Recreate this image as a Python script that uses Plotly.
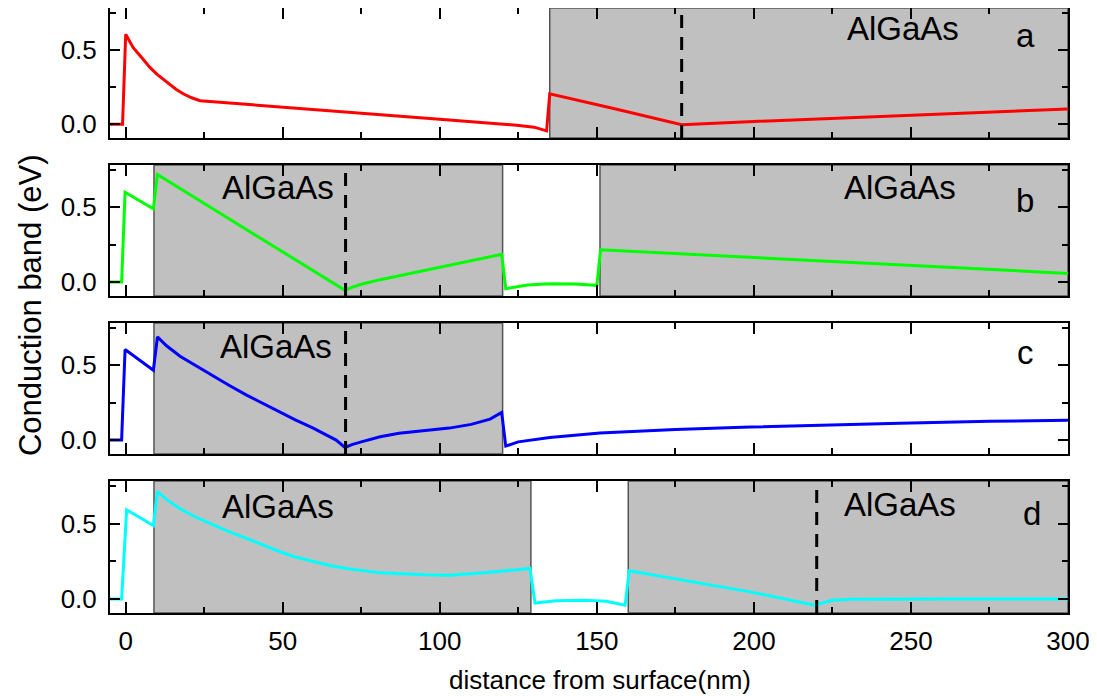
import plotly.graph_objects as go

# ---------------- data ----------------
panel_names = ["a", "b", "c", "d"]

xa = [-5, -1, 0, 2.4, 5, 7.7, 10, 13, 16, 18.3, 21, 23.7, 30, 55.5, 80, 103, 124.5, 130, 134, 135, 155, 177, 200, 250, 300]
ya = [0, 0, 0.605, 0.515, 0.45, 0.382, 0.335, 0.282, 0.235, 0.205, 0.178, 0.158, 0.148, 0.104, 0.065, 0.028, -0.007, -0.02, -0.045, 0.205, 0.107, -0.003, 0.018, 0.06, 0.102]

xb = [-5, -1.3, -0.2, 8.8, 10.1, 69.8, 72, 75, 81, 90, 103, 119.7, 121, 128, 135, 143, 150, 151.2, 300]
yb = [0, 0, 0.6, 0.489, 0.718, -0.055, -0.035, -0.015, 0.016, 0.056, 0.111, 0.185, -0.044, -0.02, -0.011, -0.013, -0.022, 0.216, 0.058]

xc = [-5, -1.3, -0.2, 8.8, 10.1, 13, 17.3, 22, 27.9, 33, 38.5, 44, 49.1, 54, 59.7, 64, 67, 69.8, 72, 75, 81, 87, 95, 103, 110, 116, 119.7, 121, 125, 135, 151, 175, 198.8, 225, 246.5, 275, 300]
yc = [0, 0, 0.605, 0.467, 0.689, 0.63, 0.56, 0.50, 0.43, 0.365, 0.30, 0.24, 0.185, 0.135, 0.08, 0.035, 0.0, -0.049, -0.03, -0.012, 0.022, 0.045, 0.062, 0.08, 0.105, 0.14, 0.185, -0.04, -0.012, 0.018, 0.047, 0.07, 0.087, 0.102, 0.113, 0.125, 0.133]

xd = [-5, -1.3, 0.3, 8.8, 10.1, 13, 17.3, 22, 27.9, 33, 38.5, 44, 49.1, 54, 59.7, 65, 70.4, 81, 95, 103.2, 115, 128.7, 130.3, 137, 145.7, 153, 159, 160.3, 198.8, 219.4, 224.8, 230.6, 260, 300]
yd = [0, 0, 0.591, 0.487, 0.713, 0.66, 0.598, 0.545, 0.491, 0.445, 0.402, 0.355, 0.313, 0.278, 0.247, 0.222, 0.202, 0.173, 0.16, 0.158, 0.175, 0.202, -0.027, -0.012, -0.009, -0.015, -0.042, 0.187, 0.047, -0.042, -0.009, -0.002, 0.0, 0.0]

series_x = [xa, xb, xc, xd]
series_y = [ya, yb, yc, yd]

# AlGaAs layer extents (nm) per panel
algaas_layers = [
    [(135, 300)],
    [(9, 120), (151, 300)],
    [(9, 120)],
    [(9, 129), (160, 300)],
]
# dashed marker position (nm) per panel
dashed_x = [177, 70, 70, 220]

x_ticks = [0, 50, 100, 150, 200, 250, 300]
y_ticks = [0.0, 0.5]

# ---------------- style ----------------
colors = ["#FF0000", "#00FF00", "#0000FF", "#00FFFF"]
domains = [(0.7851, 1.0), (0.524, 0.7405), (0.2628, 0.4793), (0.0, 0.2182)]
x_range = [-5, 300]
y_range = [-0.093, 0.782]
FONT = "Liberation Sans, Arial, sans-serif"

label_pos = [
    [(247.6, 0.647)],
    [(48.6, 0.633), (246.5, 0.633)],
    [(47.8, 0.622)],
    [(48.5, 0.613), (246.6, 0.627)],
]
letter_pos = [(286.4, 0.60), (286.4, 0.545), (286.4, 0.587), (288.4, 0.569)]

fig = go.Figure()
shapes = []
annotations = []
layout = {}

for i in range(4):
    n = "" if i == 0 else str(i + 1)
    xref = "x" + n
    yref = "y" + n
    fig.add_trace(go.Scatter(
        x=series_x[i], y=series_y[i], mode="lines",
        line=dict(color=colors[i], width=3),
        xaxis=xref, yaxis=yref, showlegend=False, hoverinfo="skip",
    ))
    layout["xaxis" + n] = dict(
        domain=[0, 1], anchor=yref, range=x_range, automargin=False,
        tickvals=x_ticks, showticklabels=(i == 3), ticklabelstandoff=4,
        ticks="inside", ticklen=11, tickwidth=1.5, tickcolor="black",
        minor=dict(dtick=25, tick0=0, ticks="inside", ticklen=6, tickwidth=1.5, tickcolor="black"),
        showline=True, linecolor="black", linewidth=2, mirror="ticks",
        showgrid=False, zeroline=False,
        tickfont=dict(family=FONT, size=26, color="black"),
        matches=None if i == 0 else "x",
    )
    layout["yaxis" + n] = dict(
        domain=list(domains[i]), anchor=xref, range=y_range, automargin=False,
        tickvals=y_ticks, ticktext=["0.0", "0.5"], ticklabelstandoff=6,
        ticks="inside", ticklen=10, tickwidth=1.5, tickcolor="black",
        minor=dict(dtick=0.25, tick0=0, ticks="inside", ticklen=6, tickwidth=1.5, tickcolor="black"),
        showline=True, linecolor="black", linewidth=2, mirror="ticks",
        showgrid=False, zeroline=False,
        tickfont=dict(family=FONT, size=26, color="black"),
    )
    for (x0, x1) in algaas_layers[i]:
        shapes.append(dict(type="rect", xref=xref, yref=yref + " domain",
                           x0=x0, x1=x1, y0=0, y1=1, layer="below",
                           fillcolor="#C0C0C0", line=dict(color="#555555", width=1.5)))
    shapes.append(dict(type="line", xref=xref, yref=yref + " domain",
                       x0=dashed_x[i], x1=dashed_x[i], y0=0, y1=1, layer="above",
                       line=dict(color="black", width=3, dash="13px,9px")))
    for (tx, ty) in label_pos[i]:
        annotations.append(dict(text="AlGaAs", x=tx, y=ty, xref=xref, yref=yref,
                                showarrow=False, xanchor="center", yanchor="middle",
                                font=dict(family=FONT, size=33, color="black")))
    lx, ly = letter_pos[i]
    annotations.append(dict(text=panel_names[i], x=lx, y=ly, xref=xref, yref=yref,
                            showarrow=False, xanchor="center", yanchor="middle",
                            font=dict(family=FONT, size=33, color="black")))

annotations.append(dict(text="Conduction band (eV)", textangle=-90,
                        x=-0.0835, y=0.509, xref="paper", yref="paper",
                        showarrow=False, xanchor="center", yanchor="middle",
                        font=dict(family=FONT, size=31, color="black")))
annotations.append(dict(text="distance from surface(nm)",
                        x=0.5115, y=-0.1107, xref="paper", yref="paper",
                        showarrow=False, xanchor="center", yanchor="middle",
                        font=dict(family=FONT, size=26, color="black")))

# the page body adds an 8px offset, so the figure is 8px smaller on each axis
fig.update_layout(
    width=1089, height=688,
    margin=dict(l=102, r=29, t=0, b=83, autoexpand=False),
    paper_bgcolor="white", plot_bgcolor="white",
    shapes=shapes, annotations=annotations,
    **layout,
)

fig.write_html("out.html")
